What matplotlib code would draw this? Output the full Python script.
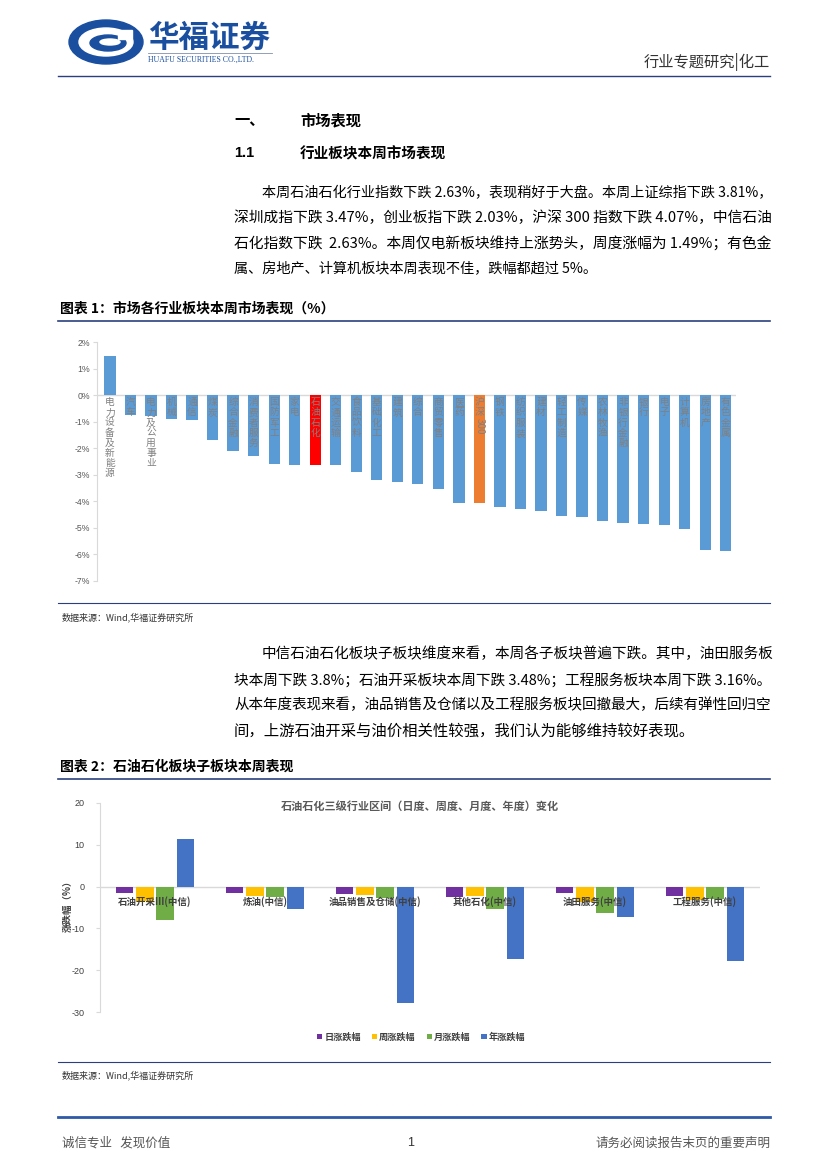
import matplotlib
matplotlib.use("Agg")
import matplotlib.pyplot as plt
from matplotlib.patches import Ellipse, Rectangle
from matplotlib.lines import Line2D
import numpy as np

plt.rcParams['font.family'] = ['Noto Sans CJK SC', 'DejaVu Sans']

W, H = 827, 1169

# ---------------- data ----------------
industries = ['电力设备及新能源', '汽车', '电力及公用事业', '机械', '通信', '煤炭', '综合金融',
              '消费者服务', '国防军工', '家电', '石油石化', '交通运输', '食品饮料', '基础化工',
              '建筑', '综合', '商贸零售', '医药', '沪深300', '钢铁', '纺织服装', '建材',
              '轻工制造', '传媒', '农林牧渔', '非银行金融', '银行', '电子', '计算机', '房地产', '有色金属']
weekly_change = [1.49, -0.75, -0.77, -0.90, -0.93, -1.68, -2.12, -2.30, -2.60, -2.62, -2.63,
                 -2.65, -2.88, -3.20, -3.28, -3.36, -3.55, -4.05, -4.07, -4.20, -4.30, -4.35,
                 -4.57, -4.60, -4.75, -4.82, -4.85, -4.90, -5.05, -5.83, -5.88]
y1_ticks = [2, 1, 0, -1, -2, -3, -4, -5, -6, -7]

sub_sectors = ['石油开采Ⅲ(中信)', '炼油(中信)', '油品销售及仓储(中信)', '其他石化(中信)',
               '油田服务(中信)', '工程服务(中信)']
daily_chg = [-1.6, -1.5, -1.7, -2.4, -1.6, -2.2]
week_chg = [-3.48, -2.3, -2.0, -2.3, -3.8, -3.16]
month_chg = [-8.0, -2.6, -2.8, -5.3, -6.4, -2.9]
year_chg = [11.5, -5.3, -27.8, -17.3, -7.2, -17.9]
series_names = ['日涨跌幅', '周涨跌幅', '月涨跌幅', '年涨跌幅']
y2_ticks = [20, 10, 0, -10, -20, -30]

fig = plt.figure(figsize=(W / 100, H / 100), dpi=100)


def fx(px):
    return px / W


def fy(py):
    return 1 - py / H


def hline(x0, x1, y, color, lw):
    fig.add_artist(Line2D([fx(x0), fx(x1)], [fy(y), fy(y)], color=color, lw=lw,
                          transform=fig.transFigure))


def txt(x, y, s, size, **kw):
    kw.setdefault('va', 'center')
    kw.setdefault('ha', 'left')
    kw.setdefault('color', '#000000')
    return fig.text(fx(x), fy(y), s, fontsize=size, **kw)


renderer = fig.canvas.get_renderer()


def fit_line(x0, x1, y, s, size, **kw):
    t = txt(x0, y, s, size, **kw)
    w = t.get_window_extent(renderer).width
    target = x1 - x0
    ns = size * target / w
    ns = max(size * 0.9, min(size * 1.1, ns))
    t.set_fontsize(ns)
    return t


# ---------------- header ----------------
ax_logo = fig.add_axes([0, 0, 1, 1], zorder=-1)
ax_logo.set_xlim(0, W)
ax_logo.set_ylim(H, 0)
ax_logo.axis('off')
ax_logo.add_patch(Ellipse((106, 42), 74, 44, color='#1A4FA0'))
ax_logo.add_patch(Ellipse((106, 42), 54, 28, color='white'))
ax_logo.add_patch(Ellipse((108, 43), 36, 16, color='#1A4FA0'))
ax_logo.add_patch(Ellipse((110, 42), 20, 6, color='white'))
ax_logo.add_patch(Rectangle((118, 30), 14, 9, color='white'))

txt(148, 38, '华福证券', 22, color='#1A4FA0', fontweight='bold')
hline(148, 272, 53, '#7F8FB0', 0.6)
txt(148, 60, 'HUAFU SECURITIES CO.,LTD.', 5.6, color='#1A4FA0', family='Liberation Serif')
txt(770, 62, '行业专题研究|化工', 11, ha='right', color='#333333')
hline(58, 770, 76, '#2B3F7E', 1.0)

# ---------------- section text ----------------
txt(234, 120, '一、', 11, fontweight='bold')
txt(300, 120, '市场表现', 11, fontweight='bold')
txt(234, 153, '1.1', 10.5, fontweight='bold', family='Liberation Sans')
txt(300, 153, '行业板块本周市场表现', 10.5, fontweight='bold')

para1 = [
    (262, 770, '本周石油石化行业指数下跌 2.63%，表现稍好于大盘。本周上证综指下跌 3.81%，'),
    (234, 770, '深圳成指下跌 3.47%，创业板指下跌 2.03%，沪深 300 指数下跌 4.07%，中信石油'),
    (234, 770, '石化指数下跌  2.63%。本周仅电新板块维持上涨势头，周度涨幅为 1.49%；有色金'),
    (234, 597, '属、房地产、计算机板块本周表现不佳，跌幅都超过 5%。'),
]
for (x0, x1, s), y in zip(para1, [193, 218, 244, 269]):
    fit_line(x0, x1, y, s, 10.3)

para2 = [
    (262, 770, '中信石油石化板块子板块维度来看，本周各子板块普遍下跌。其中，油田服务板'),
    (234, 770, '块本周下跌 3.8%；石油开采板块本周下跌 3.48%；工程服务板块本周下跌 3.16%。'),
    (234, 770, '从本年度表现来看，油品销售及仓储以及工程服务板块回撤最大，后续有弹性回归空'),
    (234, 694, '间，上游石油开采与油价相关性较强，我们认为能够维持较好表现。'),
]
for (x0, x1, s), y in zip(para2, [654, 680, 705, 731]):
    fit_line(x0, x1, y, s, 10.3)

# ---------------- figure 1 ----------------
txt(60, 309, '图表 1：市场各行业板块本周市场表现（%）', 10, fontweight='bold')
hline(58, 770, 321, '#2B3F7E', 1.2)
hline(58, 770, 603, '#2B3F7E', 0.8)
txt(62, 617, '数据来源：Wind,华福证券研究所', 6.5, color='#333333')

ax1_l, ax1_r, ax1_t, ax1_b = 97, 736, 342, 581
ax1 = fig.add_axes([fx(ax1_l), fy(ax1_b), fx(ax1_r - ax1_l), (ax1_b - ax1_t) / H])
x1 = np.arange(len(industries))
cols = ['#FF0000' if n == '石油石化' else ('#ED7D31' if n == '沪深300' else '#5B9BD5')
        for n in industries]
ax1.bar(x1, weekly_change, width=0.55, color=cols, zorder=2)
ax1.set_xlim(-0.63, 30.5)
ax1.set_ylim(-7, 2)
ax1.set_yticks(y1_ticks)
ax1.set_yticklabels([f'{v}%' for v in y1_ticks], fontsize=6.3, color='#595959',
                    family='Liberation Sans')
ax1.axhline(0, color='#D9D9D9', lw=1.0, zorder=1)
for s in ['top', 'right', 'bottom']:
    ax1.spines[s].set_visible(False)
ax1.spines['left'].set_color('#D9D9D9')
ax1.tick_params(axis='y', length=3, color='#D9D9D9', pad=2)
ax1.set_xticks([])
ax1.patch.set_alpha(0)
for xi, name in zip(x1, industries):
    if name == '沪深300':
        ax1.text(xi, -0.08, '沪\n深', ha='center', va='top', fontsize=7, color='#808080',
                 linespacing=1.02, zorder=3)
        ax1.text(xi, -0.85, '300', ha='center', va='top', fontsize=7, color='#808080',
                 rotation=270, zorder=3)
    else:
        ax1.text(xi, -0.08, '\n'.join(name), ha='center', va='top', fontsize=7,
                 color='#808080', linespacing=1.02, zorder=3)

# ---------------- figure 2 ----------------
txt(60, 767, '图表 2：石油石化板块子板块本周表现', 10, fontweight='bold')
hline(58, 770, 779, '#2B3F7E', 1.2)
hline(58, 770, 1062, '#2B3F7E', 0.8)
txt(62, 1075, '数据来源：Wind,华福证券研究所', 6.5, color='#333333')

ax2_l, ax2_r, ax2_t, ax2_b = 100, 760, 803, 1012
ax2 = fig.add_axes([fx(ax2_l), fy(ax2_b), fx(ax2_r - ax2_l), (ax2_b - ax2_t) / H])
x2 = np.arange(len(sub_sectors))
colors2 = ['#7030A0', '#FFC000', '#70AD47', '#4472C4']
offs = [-0.273, -0.091, 0.091, 0.273]
for data, c, o, n in zip([daily_chg, week_chg, month_chg, year_chg], colors2, offs, series_names):
    ax2.bar(x2 + o, data, width=0.155, color=c, label=n, zorder=2)
ax2.set_xlim(-0.5, 5.5)
ax2.set_ylim(-30, 20)
ax2.set_yticks(y2_ticks)
ax2.set_yticklabels([str(v) for v in y2_ticks], fontsize=6.5, color='#404040',
                    family='Liberation Sans')
ax2.axhline(0, color='#D9D9D9', lw=1.0, zorder=1)
for s in ['top', 'right', 'bottom']:
    ax2.spines[s].set_visible(False)
ax2.spines['left'].set_color('#D9D9D9')
ax2.tick_params(axis='y', length=3, color='#D9D9D9', pad=8)
ax2.set_xticks([])
ax2.patch.set_alpha(0)
for xi, name in zip(x2, sub_sectors):
    ax2.text(xi, -3.6, name, ha='center', va='center', fontsize=6.8, color='#404040',
             fontweight='bold', zorder=3)
txt(68, 904, '涨跌幅（%）', 6.8, ha='center', rotation=90, fontweight='bold', color='#404040')
txt(420, 806, '石油石化三级行业区间（日度、周度、月度、年度）变化', 8, ha='center',
    fontweight='bold', color='#595959')
leg = ax2.legend(loc='center', bbox_to_anchor=(fx(421), fy(1037)),
                 bbox_transform=fig.transFigure, ncol=4, frameon=False,
                 fontsize=6.6, handlelength=0.6, handleheight=0.6, handletextpad=0.2,
                 columnspacing=1.2)
for t in leg.get_texts():
    t.set_fontweight('bold')
    t.set_color('#404040')

# ---------------- footer ----------------
hline(58, 770, 1117, '#2E5AA8', 2.0)
txt(62, 1143, '诚信专业   发现价值', 9, color='#555555')
txt(411, 1143, '1', 9, ha='center', color='#333333', family='Liberation Sans')
txt(770, 1143, '请务必阅读报告末页的重要声明', 9, ha='right', color='#555555')

fig.savefig('out.png', dpi=100)
